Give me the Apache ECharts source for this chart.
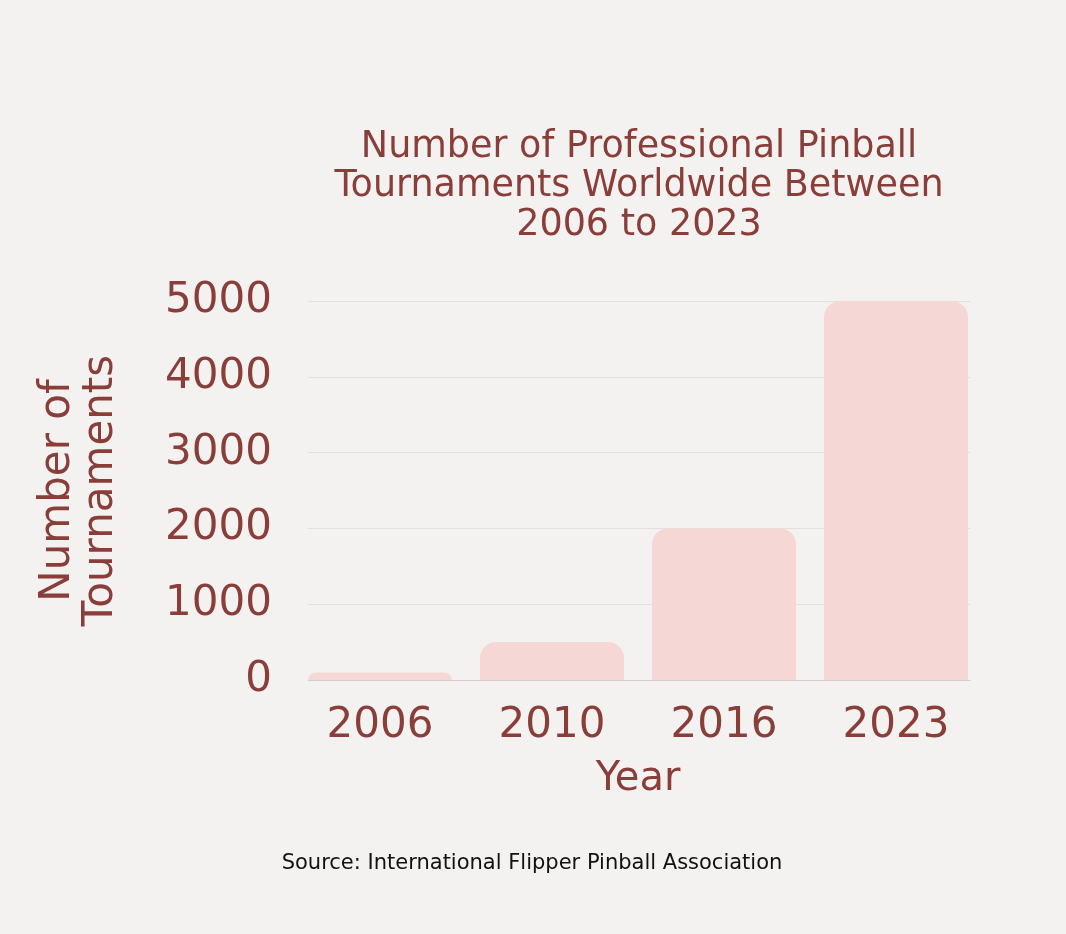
<!DOCTYPE html>
<html>
<head>
    <title>Pinball Tournaments</title>
    <script src="https://cdn.jsdelivr.net/npm/echarts@6/dist/echarts.min.js"></script>
    <style>
        html, body { margin: 0; padding: 0; background: #f3f2f0; }
        #chart { width: 1066px; height: 934px; }
    </style>
</head>
<body>
    <div id="chart"></div>
    <script>
        // data
        var years = ['2006', '2010', '2016', '2023'];
        var tournaments = [100, 500, 2000, 5000];

        var textColor = '#8a3e3a';
        var fontName = 'DejaVu Sans';

        // the tick labels are big and close together, so they are split over
        // the two y axes (even and odd thousands) to keep ECharts from hiding any
        function evenLabel(v) { return (v / 1000) % 2 === 0 ? String(v) : ''; }
        function oddLabel(v) { return (v / 1000) % 2 === 1 ? String(v) : ''; }

        var chart = echarts.init(document.getElementById('chart'));

        var labelStyle = {
            color: textColor,
            fontFamily: fontName,
            fontSize: 42,
            showMinLabel: true,
            showMaxLabel: true,
            hideOverlap: false
        };

        var option = {
            backgroundColor: '#f3f2f0',
            title: [
                {
                    text: 'Number of Professional Pinball\nTournaments Worldwide Between\n2006 to 2023',
                    left: 634,
                    top: 123,
                    textAlign: 'center',
                    textStyle: {
                        color: textColor,
                        fontFamily: fontName,
                        fontWeight: 'normal',
                        fontSize: 36.5,
                        lineHeight: 39
                    }
                },
                {
                    text: 'Source: International Flipper Pinball Association',
                    left: 527,
                    top: 838,
                    textAlign: 'center',
                    textStyle: {
                        color: '#111111',
                        fontFamily: fontName,
                        fontWeight: 'normal',
                        fontSize: 21
                    }
                }
            ],
            grid: [
                // grid for the split lines and base line
                { left: 308, right: 96, top: 301, bottom: 254 },
                // grid for the bars
                { left: 294, right: 84, top: 301, bottom: 254 }
            ],
            xAxis: [
                {
                    gridIndex: 0,
                    type: 'category',
                    data: years,
                    axisLine: { lineStyle: { color: '#d6cdcb', width: 1 } },
                    axisTick: { show: false },
                    axisLabel: { show: false }
                },
                {
                    gridIndex: 1,
                    type: 'category',
                    data: years,
                    name: 'Year',
                    nameLocation: 'middle',
                    nameGap: 60,
                    nameMoveOverlap: false,
                    nameTextStyle: {
                        color: textColor,
                        fontFamily: fontName,
                        fontSize: 40
                    },
                    axisLine: { show: false },
                    axisTick: { show: false },
                    axisLabel: {
                        color: textColor,
                        fontFamily: fontName,
                        fontSize: 42,
                        margin: 4
                    }
                }
            ],
            yAxis: [
                {
                    gridIndex: 0,
                    type: 'value',
                    min: 0,
                    max: 5000,
                    interval: 1000,
                    name: 'Number of\nTournaments',
                    nameLocation: 'middle',
                    nameRotate: 90,
                    nameGap: 185,
                    nameMoveOverlap: false,
                    nameTextStyle: {
                        color: textColor,
                        fontFamily: fontName,
                        fontSize: 42,
                        lineHeight: 43
                    },
                    axisLine: { show: false },
                    axisTick: { show: false },
                    axisLabel: Object.assign({}, labelStyle, {
                        margin: 36,
                        formatter: evenLabel
                    }),
                    splitLine: {
                        lineStyle: { color: '#e4dedc', width: 1 }
                    }
                },
                {
                    gridIndex: 1,
                    type: 'value',
                    min: 0,
                    max: 5000,
                    interval: 1000,
                    axisLine: { show: false },
                    axisTick: { show: false },
                    splitLine: { show: false },
                    axisLabel: Object.assign({}, labelStyle, {
                        margin: 22,
                        formatter: oddLabel
                    })
                }
            ],
            series: [
                {
                    type: 'bar',
                    xAxisIndex: 1,
                    yAxisIndex: 1,
                    data: tournaments,
                    barWidth: 144,
                    itemStyle: {
                        color: '#f5d8d5',
                        borderRadius: [16, 16, 0, 0]
                    },
                    silent: true
                }
            ]
        };

        chart.setOption(option);
    </script>
</body>
</html>
